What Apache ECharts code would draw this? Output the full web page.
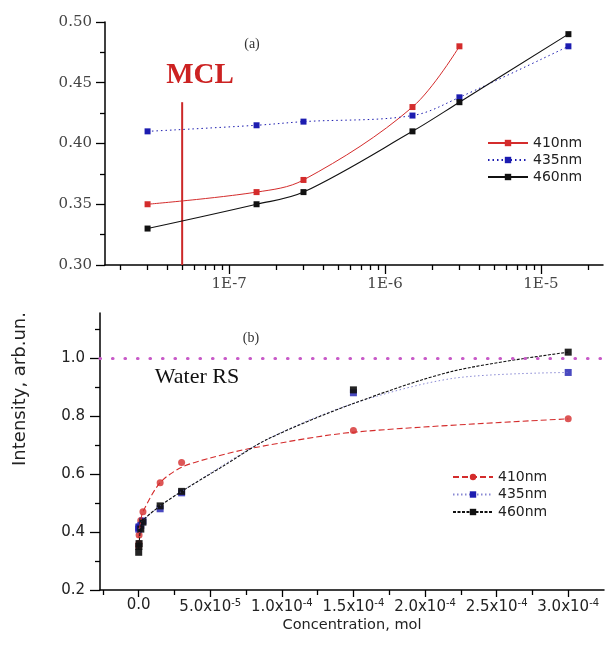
<!DOCTYPE html>
<html><head><meta charset="utf-8">
<script src="https://cdn.jsdelivr.net/npm/echarts@6/dist/echarts.min.js"></script>
<style>html,body{margin:0;padding:0;background:#fff}#c{width:609px;height:646px}</style>
</head><body><div id="c"></div>
<script>
// ---------- Panel (a): log concentration ----------
const concA = [3e-8, 1.5e-7, 3e-7, 1.5e-6, 3e-6, 1.5e-5];
const a410 = [0.35, 0.36, 0.37, 0.43, 0.48];
const a435 = [0.41, 0.415, 0.418, 0.423, 0.438, 0.48];
const a460 = [0.33, 0.35, 0.36, 0.41, 0.434, 0.49];
const mclConc = 5e-8;
const mclTopValue = 0.434;
const aYTicks = [0.30, 0.35, 0.40, 0.45, 0.50];
const aYMinor = [0.325, 0.375, 0.425, 0.475];
const aXMajor = [1e-7, 1e-6, 1e-5];
const aXLabels = ['1E-7', '1E-6', '1E-5'];
const aXMinor = [2e-8,3e-8,4e-8,5e-8,6e-8,7e-8,8e-8,9e-8,
                 2e-7,3e-7,4e-7,5e-7,6e-7,7e-7,8e-7,9e-7,
                 2e-6,3e-6,4e-6,5e-6,6e-6,7e-6,8e-6,9e-6,2e-5];

// ---------- Panel (b): linear concentration ----------
const concB = [3e-8, 1.5e-7, 3e-7, 1.5e-6, 3e-6, 1.5e-5, 3e-5, 1.5e-4, 3e-4];
const b410 = [0.35, 0.36, 0.39, 0.44, 0.47, 0.57, 0.64, 0.75, 0.79];
const b435 = [0.41, 0.415, 0.418, 0.423, 0.438, 0.48, 0.535, 0.88, 0.95];
const b460 = [0.33, 0.35, 0.36, 0.41, 0.434, 0.49, 0.54, 0.89, 1.02];
// fitted curves
const fitX410 = [0, 1.5e-6, 3e-6, 1.5e-5, 3e-5, 5e-5, 8e-5, 1.5e-4, 3e-4];
const fitY410 = [0.38, 0.44, 0.47, 0.57, 0.623, 0.655, 0.69, 0.744, 0.79];
const fitX435 = [0, 1.5e-6, 3e-6, 1.5e-5, 3e-5, 9e-5, 1.5e-4, 2.2e-4, 3e-4];
const fitY435 = [0.41, 0.43, 0.44, 0.49, 0.54, 0.72, 0.843, 0.93, 0.95];
const fitX460 = [0, 1.5e-6, 3e-6, 1.5e-5, 3e-5, 6e-5, 9e-5, 1.5e-4, 2.2e-4, 3e-4];
const fitY460 = [0.34, 0.42, 0.44, 0.49, 0.54, 0.63, 0.72, 0.843, 0.955, 1.02];
const waterRS = 1.0;
const bXMajor = [0, 5e-5, 1e-4, 1.5e-4, 2e-4, 2.5e-4, 3e-4];
const bXMant = ['0.0', '5.0', '1.0', '1.5', '2.0', '2.5', '3.0'];
const bXExp = ['', '-5', '-4', '-4', '-4', '-4', '-4'];
const bXMinor = [-2.5e-5, 2.5e-5, 7.5e-5, 1.25e-4, 1.75e-4, 2.25e-4, 2.75e-4];
const bYTicks = [0.2, 0.4, 0.6, 0.8, 1.0];
const bYMinor = [0.3, 0.5, 0.7, 0.9, 1.1];

const pairs = (xs, ys) => ys.map((y, i) => [xs[i], y]);
const RED = '#d42c2c', BLUE = '#1c1cb0', BLACK = '#111111';
const serif = '"DejaVu Serif", serif', sans = '"DejaVu Sans", sans-serif';
const aMin = 1.6e-8, aMax = 2.5e-5;

const axLine = {show: true, onZero: false, lineStyle: {color: '#000', width: 1.5}};
const noLine = {show: false, onZero: false};
const tick = (vals, len) => ({show: true, customValues: vals, length: len, lineStyle: {color: '#000', width: 1.3}});

const chart = echarts.init(document.getElementById('c'));
chart.setOption({
  animation: false,
  backgroundColor: '#fff',
  grid: [
    {left: 105, top: 22, width: 498, height: 243},
    {left: 100, top: 313, width: 504, height: 277}
  ],
  xAxis: [
    {type: 'log', gridIndex: 0, position: 'bottom', min: aMin, max: aMax, logBase: 10,
     axisLine: axLine, axisTick: {show: false}, splitLine: {show: false}, minorTick: {show: false},
     axisLabel: {showMinLabel: false, showMaxLabel: false, margin: 12, fontFamily: serif, fontSize: 15, color: '#444',
       formatter: v => { const i = aXMajor.findIndex(t => Math.abs(Math.log10(t) - Math.log10(v)) < 1e-6); return i < 0 ? '' : aXLabels[i]; }}},
    {type: 'value', gridIndex: 0, position: 'bottom', min: Math.log10(aMin), max: Math.log10(aMax),
     axisLine: noLine, axisLabel: {show: false}, splitLine: {show: false}, axisTick: tick(aXMajor.map(Math.log10), 9)},
    {type: 'value', gridIndex: 0, position: 'bottom', min: Math.log10(aMin), max: Math.log10(aMax),
     axisLine: noLine, axisLabel: {show: false}, splitLine: {show: false}, axisTick: tick(aXMinor.map(Math.log10), 5)},
    {type: 'value', gridIndex: 1, position: 'bottom', min: -2.7e-5, max: 3.25e-4,
     axisLine: axLine, splitLine: {show: false}, axisTick: tick(bXMajor, 7),
     name: 'Concentration, mol', nameLocation: 'middle', nameGap: 28,
     nameTextStyle: {fontFamily: sans, fontSize: 14.5, color: '#222'},
     axisLabel: {customValues: bXMajor, margin: 8, fontFamily: sans, fontSize: 15, color: '#222',
       formatter: v => { const i = bXMajor.findIndex(t => Math.abs(t - v) < 1e-9); if (i < 0) return '';
         return bXExp[i] ? '{m|' + bXMant[i] + 'x10}{e|' + bXExp[i] + '}' : '{m|' + bXMant[i] + '}'; },
       rich: {m: {fontFamily: sans, fontSize: 15, color: '#222'},
              e: {fontFamily: sans, fontSize: 10, color: '#222', padding: [0, 0, 8, 0]}}}},
    {type: 'value', gridIndex: 1, position: 'bottom', min: -2.7e-5, max: 3.25e-4,
     axisLine: noLine, axisLabel: {show: false}, splitLine: {show: false}, axisTick: tick(bXMinor, 5)}
  ],
  yAxis: [
    {type: 'value', gridIndex: 0, position: 'left', min: 0.30, max: 0.50,
     axisLine: axLine, splitLine: {show: false}, axisTick: tick(aYTicks, 9),
     axisLabel: {customValues: aYTicks, formatter: v => v.toFixed(2), margin: 13, fontFamily: serif, fontSize: 15, color: '#444'}},
    {type: 'value', gridIndex: 0, position: 'left', min: 0.30, max: 0.50,
     axisLine: noLine, axisLabel: {show: false}, splitLine: {show: false}, axisTick: tick(aYMinor, 5)},
    {type: 'value', gridIndex: 1, position: 'left', min: 0.2, max: 1.155,
     axisLine: axLine, splitLine: {show: false}, axisTick: tick(bYTicks, 10),
     axisLabel: {customValues: bYTicks, formatter: v => v.toFixed(1), margin: 15, fontFamily: sans, fontSize: 15, color: '#222'}},
    {type: 'value', gridIndex: 1, position: 'left', min: 0.2, max: 1.155,
     axisLine: noLine, axisLabel: {show: false}, splitLine: {show: false}, axisTick: tick(bYMinor, 5)}
  ],
  legend: [
    {orient: 'vertical', left: 487, top: 136, padding: 0, itemWidth: 40, itemHeight: 8, itemGap: 3, selectedMode: false,
     textStyle: {fontFamily: sans, fontSize: 14, color: '#222'}, data: ['410nm', '435nm', '460nm']},
    {orient: 'vertical', left: 452, top: 470, padding: 0, itemWidth: 40, itemHeight: 8, itemGap: 3.5, selectedMode: false,
     textStyle: {fontFamily: sans, fontSize: 14, color: '#222'}, formatter: n => n.replace('b-', ''),
     data: ['b-410nm', 'b-435nm', 'b-460nm']}
  ],
  graphic: [
    {type: 'text', x: 200, y: 76, style: {text: 'MCL', font: 'bold 29px "Liberation Serif", serif', fill: '#cc2222', align: 'center', verticalAlign: 'middle'}},
    {type: 'text', x: 252, y: 44, style: {text: '(a)', font: '14px "Liberation Serif", serif', fill: '#333', align: 'center', verticalAlign: 'middle'}},
    {type: 'text', x: 251, y: 338, style: {text: '(b)', font: '14px "Liberation Serif", serif', fill: '#333', align: 'center', verticalAlign: 'middle'}},
    {type: 'text', x: 197, y: 377, style: {text: 'Water RS', font: '22px "Liberation Serif", serif', fill: '#111', align: 'center', verticalAlign: 'middle'}},
    {type: 'text', x: 20, y: 389, rotation: Math.PI / 2, style: {text: 'Intensity, arb.un.', font: '18px "DejaVu Sans", sans-serif', fill: '#222', align: 'center', verticalAlign: 'middle'}}
  ],
  series: [
    // panel (a)
    {name: 'MCL line', type: 'line', xAxisIndex: 0, yAxisIndex: 0, symbol: 'none', silent: true,
     data: [[mclConc, 0.30], [mclConc, mclTopValue]], lineStyle: {color: '#cc2828', width: 2}, z: 1},
    {name: '410nm', type: 'line', xAxisIndex: 0, yAxisIndex: 0, data: pairs(concA, a410), smooth: 0.35,
     symbol: 'rect', symbolSize: 6, itemStyle: {color: RED}, lineStyle: {color: RED, width: 1}},
    {name: '435nm', type: 'line', xAxisIndex: 0, yAxisIndex: 0, data: pairs(concA, a435), smooth: 0.35,
     symbol: 'rect', symbolSize: 6, itemStyle: {color: BLUE}, lineStyle: {color: BLUE, width: 1, type: [1.5, 3]}},
    {name: '460nm', type: 'line', xAxisIndex: 0, yAxisIndex: 0, data: pairs(concA, a460), smooth: 0.35,
     symbol: 'rect', symbolSize: 6, itemStyle: {color: BLACK}, lineStyle: {color: BLACK, width: 1.1}},
    // panel (b) fitted curves (legend entries)
    {name: 'b-410nm', type: 'line', xAxisIndex: 3, yAxisIndex: 2, data: pairs(fitX410, fitY410), smooth: 0.3,
     showSymbol: false, symbol: 'circle', itemStyle: {color: RED}, lineStyle: {color: RED, width: 1.1, type: [6, 3]},
     markLine: {silent: true, symbol: 'none', label: {show: false},
       lineStyle: {color: '#c85ac8', width: 3.2, type: [0.5, 12], cap: 'round'}, data: [{yAxis: waterRS}]}},
    {name: 'b-435nm', type: 'line', xAxisIndex: 3, yAxisIndex: 2, data: pairs(fitX435, fitY435), smooth: 0.3,
     showSymbol: false, symbol: 'rect', itemStyle: {color: BLUE}, lineStyle: {color: '#6a6ac8', width: 1, type: [1.5, 2.5], opacity: 0.8}},
    {name: 'b-460nm', type: 'line', xAxisIndex: 3, yAxisIndex: 2, data: pairs(fitX460, fitY460), smooth: 0.3,
     showSymbol: false, symbol: 'rect', itemStyle: {color: BLACK}, lineStyle: {color: BLACK, width: 1.1, type: [3, 1.5]}},
    // panel (b) measured points
    {name: 'pts410', type: 'scatter', xAxisIndex: 3, yAxisIndex: 2, data: pairs(concB, b410),
     symbol: 'circle', symbolSize: 7, itemStyle: {color: RED}},
    {name: 'pts435', type: 'scatter', xAxisIndex: 3, yAxisIndex: 2, data: pairs(concB, b435),
     symbol: 'rect', symbolSize: 7, itemStyle: {color: BLUE}},
    {name: 'pts460', type: 'scatter', xAxisIndex: 3, yAxisIndex: 2, data: pairs(concB, b460),
     symbol: 'rect', symbolSize: 7, itemStyle: {color: BLACK, opacity: 0.92}}
  ]
});
</script></body></html>
